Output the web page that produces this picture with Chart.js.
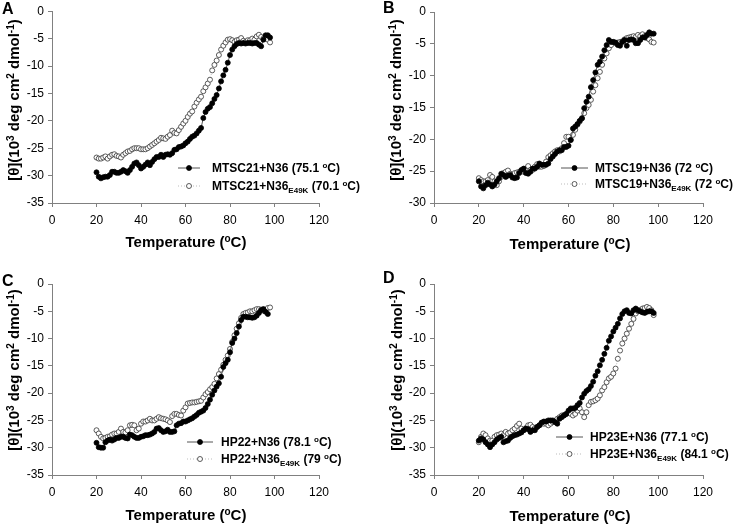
<!DOCTYPE html>
<html><head><meta charset="utf-8">
<script src="https://cdn.jsdelivr.net/npm/chart.js@4"></script>
<style>
html,body{margin:0;padding:0;background:#fff;}
body{width:733px;height:524px;position:relative;overflow:hidden;font-family:"Liberation Sans",Arial,sans-serif;}
canvas{position:absolute;}
.lbl{position:absolute;font-weight:bold;font-size:16px;line-height:16px;color:#000;}
</style></head><body>
<canvas id="cA" width="366" height="262" style="left:0px;top:0px;width:366px;height:262px"></canvas>
<canvas id="cB" width="367" height="262" style="left:366px;top:0px;width:367px;height:262px"></canvas>
<canvas id="cC" width="366" height="262" style="left:0px;top:262px;width:366px;height:262px"></canvas>
<canvas id="cD" width="367" height="262" style="left:366px;top:262px;width:367px;height:262px"></canvas>
<div class="lbl" style="left:2px;top:1px">A</div>
<div class="lbl" style="left:383px;top:0px">B</div>
<div class="lbl" style="left:2px;top:273px">C</div>
<div class="lbl" style="left:383px;top:270px">D</div>
<script>
// ---------------- DATA ----------------
const temps = [20,21,22,23,24,25,26,27,28,29,30,31,32,33,34,35,36,37,38,39,40,41,42,43,44,45,46,47,48,49,50,51,52,53,54,55,56,57,58,59,60,61,62,63,64,65,66,67,68,69,70,71,72,73,74,75,76,77,78,79,80,81,82,83,84,85,86,87,88,89,90,91,92,93,94,95,96,97,98];
const xTicks = [0,20,40,60,80,100,120];

const a_wt = [-29.4,-30.2,-30.5,-30.3,-30.2,-30.2,-29.9,-29.3,-29.3,-29.5,
-29.5,-29.3,-29.0,-29.2,-29.5,-29.0,-28.4,-27.8,-27.6,-28.1,
-28.7,-28.4,-28.0,-27.6,-28.1,-27.5,-27.0,-26.6,-26.6,-26.2,
-26.6,-26.2,-26.1,-26.2,-25.9,-25.3,-25.2,-24.8,-24.7,-24.5,
-24.1,-23.8,-23.3,-22.9,-22.7,-22.3,-21.8,-21.3,-19.5,-18.4,
-17.8,-17.5,-16.8,-16.0,-15.3,-14.1,-12.8,-11.7,-10.7,-9.4,
-8.0,-7.0,-6.4,-6.0,-5.8,-5.9,-5.8,-5.9,-5.8,-5.8,
-5.9,-5.8,-5.8,-6.1,-6.4,-5.2,-4.4,-4.4,-4.8];
const a_e49k = [-26.7,-26.9,-26.9,-26.7,-26.5,-26.9,-26.5,-26.2,-26.1,-26.4,
-26.5,-26.7,-26.2,-25.9,-25.6,-25.5,-25.2,-25.0,-25.0,-25.0,
-25.2,-25.2,-25.2,-25.0,-24.7,-24.4,-24.1,-23.8,-23.5,-23.1,
-23.2,-23.3,-22.9,-22.6,-21.8,-22.2,-22.3,-21.7,-21.1,-20.5,
-20.0,-19.3,-18.7,-18.3,-17.4,-16.7,-16.1,-15.6,-14.6,-13.9,
-13.2,-12.5,-10.8,-9.8,-9.0,-8.0,-7.0,-6.3,-5.7,-5.2,
-5.1,-5.3,-5.6,-5.3,-5.2,-4.9,-5.4,-5.6,-5.3,-5.3,
-5.0,-5.2,-4.6,-4.3,-4.7,-5.0,-4.8,-5.2,-5.7];

const b_wt = [-26.6,-27.4,-27.7,-27.2,-26.8,-27.1,-27.4,-27.1,-26.6,-26.1,
-25.4,-25.6,-25.9,-25.7,-25.6,-26.0,-26.1,-26.0,-25.3,-24.8,
-24.6,-25.3,-25.4,-25.1,-24.6,-24.6,-24.3,-23.8,-24.0,-24.0,
-24.0,-23.8,-23.1,-22.7,-22.3,-21.9,-21.7,-21.7,-21.2,-21.2,
-21.0,-20.1,-18.3,-18.0,-17.6,-17.1,-16.7,-15.1,-14.1,-13.3,
-11.8,-10.7,-9.5,-8.3,-7.8,-7.0,-6.0,-5.2,-4.4,-4.7,
-4.7,-4.8,-5.2,-5.3,-4.7,-4.4,-5.3,-4.4,-4.3,-4.4,
-4.9,-4.9,-4.4,-4.0,-4.0,-3.6,-3.2,-3.4,-3.4];
const b_e49k = [-26.1,-26.4,-26.6,-26.6,-26.4,-25.6,-25.9,-26.6,-27.2,-26.6,
-25.9,-25.3,-25.1,-24.9,-25.4,-25.6,-25.3,-25.2,-25.1,-25.0,
-25.1,-24.6,-24.2,-24.8,-24.8,-24.3,-23.9,-24.3,-24.3,-24.2,
-23.5,-22.8,-22.5,-22.2,-21.9,-21.7,-21.9,-21.4,-20.6,-19.6,
-19.6,-20.1,-19.3,-18.5,-17.7,-17.2,-16.7,-15.9,-15.1,-14.6,
-13.8,-12.5,-11.5,-10.4,-9.4,-8.3,-7.3,-6.5,-5.7,-5.2,
-4.7,-4.9,-4.8,-4.7,-4.6,-4.3,-4.1,-4.0,-3.9,-3.8,
-3.9,-3.6,-3.8,-3.5,-3.8,-4.1,-4.3,-4.7,-4.8];

const c_wt = [-29.1,-29.9,-30.0,-30.0,-29.0,-28.7,-28.5,-28.7,-28.5,-28.2,
-28.2,-28.0,-28.0,-28.2,-28.3,-27.6,-27.7,-28.0,-28.2,-28.2,
-28.0,-27.9,-27.7,-27.7,-27.6,-27.4,-27.1,-26.5,-26.4,-26.8,
-27.1,-27.0,-26.7,-27.1,-27.1,-27.0,-25.9,-25.6,-25.5,-25.2,
-25.2,-25.0,-24.8,-24.6,-24.3,-24.0,-23.6,-23.4,-23.2,-22.7,
-22.0,-21.2,-20.3,-19.5,-18.8,-18.2,-17.0,-15.2,-14.5,-13.9,
-12.5,-10.8,-10.0,-9.0,-7.8,-6.6,-6.0,-6.0,-6.1,-6.1,
-6.2,-6.1,-5.8,-5.3,-4.8,-4.6,-5.1,-5.5,null];
const c_e49k = [-26.8,-27.4,-28.0,-28.3,-28.2,-28.0,-27.9,-27.6,-27.4,-27.4,
-27.1,-26.5,-27.1,-27.2,-26.8,-25.9,-25.8,-25.9,-26.8,-26.5,
-25.6,-25.2,-25.2,-25.0,-24.7,-25.0,-25.0,-24.7,-24.4,-24.6,
-24.7,-24.8,-25.0,-25.3,-24.2,-23.8,-23.8,-24.0,-24.1,-23.2,
-22.6,-21.9,-21.8,-21.7,-21.7,-21.6,-21.5,-21.4,-20.8,-20.2,
-19.8,-19.3,-18.9,-18.3,-17.3,-16.5,-15.7,-14.8,-13.9,-13.1,
-11.9,-10.6,-9.4,-8.2,-7.2,-6.2,-5.5,-5.3,-5.2,-5.0,
-5.0,-4.8,-4.6,-4.6,-4.7,-4.9,-4.8,-4.4,-4.3];

const d_wt = [-28.7,-28.3,-28.5,-29.0,-29.4,-29.9,-29.4,-29.0,-28.5,-28.2,
-28.0,-29.0,-28.8,-28.7,-28.2,-27.9,-27.7,-27.6,-27.4,-27.2,
-26.8,-26.5,-26.6,-27.1,-26.8,-26.8,-26.2,-25.9,-25.4,-25.2,
-25.2,-25.0,-25.0,-25.0,-25.3,-25.6,-24.7,-24.4,-24.1,-23.8,
-23.2,-22.8,-22.8,-22.7,-22.2,-21.8,-20.8,-20.1,-19.6,-19.3,
-18.7,-17.9,-16.8,-16.0,-14.9,-13.9,-12.8,-11.7,-10.4,-9.6,
-8.7,-8.0,-7.3,-6.3,-5.5,-5.0,-4.8,-5.3,-5.4,-4.8,
-4.5,-4.8,-5.0,-5.2,-5.3,-5.1,-5.0,-5.0,-5.3];
const d_e49k = [-29.0,-28.0,-27.4,-27.7,-28.3,-28.7,-28.7,-28.0,-27.7,-27.6,
-27.4,-27.7,-27.1,-27.4,-27.2,-26.8,-26.5,-26.0,-25.6,-26.5,
-26.8,-26.4,-25.9,-25.8,-26.2,-26.4,-26.2,-25.9,-25.6,-25.6,
-25.6,-25.9,-25.6,-25.3,-25.2,-24.7,-24.4,-24.1,-24.0,-23.8,
-23.6,-23.8,-24.1,-23.8,-23.2,-22.8,-23.5,-24.4,-23.5,-22.2,
-21.6,-21.5,-21.3,-21.0,-20.4,-19.5,-18.9,-18.0,-17.3,-17.0,
-16.4,-15.5,-13.7,-12.2,-10.9,-10.0,-9.1,-8.2,-7.3,-6.4,
-5.4,-5.0,-4.8,-4.5,-4.4,-4.2,-4.4,-4.8,-5.7];

// legend labels (text parts; sub = subscript, sup = superscript)
const legendA = [[{t:'MTSC21+N36 (75.1 '},{t:'o',sup:1},{t:'C)'}],
                 [{t:'MTSC21+N36'},{t:'E49K',sub:1},{t:' (70.1 '},{t:'o',sup:1},{t:'C)'}]];
const legendB = [[{t:'MTSC19+N36 (72 '},{t:'o',sup:1},{t:'C)'}],
                 [{t:'MTSC19+N36'},{t:'E49K',sub:1},{t:' (72 '},{t:'o',sup:1},{t:'C)'}]];
const legendC = [[{t:'HP22+N36 (78.1 '},{t:'o',sup:1},{t:'C)'}],
                 [{t:'HP22+N36'},{t:'E49K',sub:1},{t:' (79 '},{t:'o',sup:1},{t:'C)'}]];
const legendD = [[{t:'HP23E+N36 (77.1 '},{t:'o',sup:1},{t:'C)'}],
                 [{t:'HP23E+N36'},{t:'E49K',sub:1},{t:' (84.1 '},{t:'o',sup:1},{t:'C)'}]];
const yTitle = [{t:'[θ](10'},{t:'3',sup:1},{t:' deg cm'},{t:'2',sup:1},{t:' dmol'},{t:'-1',sup:1},{t:')'}];
const xTitle = [{t:'Temperature ('},{t:'o',sup:1},{t:'C)'}];

// ---------------- RENDER ----------------
const FAM = '"Liberation Sans", Arial, sans-serif';
function fontFor(p, size){ const s = (p.sup||p.sub) ? Math.round(size*0.66) : size; return 'bold ' + s + 'px ' + FAM; }
function measure(ctx, parts, size){ let w=0; parts.forEach(p=>{ctx.font=fontFor(p,size); w+=ctx.measureText(p.t).width;}); return w; }
function drawParts(ctx, parts, x, y, size){
  parts.forEach(p=>{ ctx.font=fontFor(p,size); const dy = p.sup ? -size*0.38 : (p.sub ? size*0.25 : 0);
    ctx.fillText(p.t, x, y+dy); x += ctx.measureText(p.t).width; });
}
function makeDeco(cfg){
  return { id:'deco'+cfg.id, afterDraw(chart){
    const ctx = chart.ctx; ctx.save();
    ctx.fillStyle='#000'; ctx.textBaseline='alphabetic'; ctx.textAlign='left';
    let s = cfg.xts, w = measure(ctx, xTitle, s);
    drawParts(ctx, xTitle, cfg.xt.x - w/2, cfg.xt.y + s*0.358, s);
    s = cfg.yts; w = measure(ctx, yTitle, s);
    ctx.save(); ctx.translate(cfg.yt.x, cfg.yt.y); ctx.rotate(-Math.PI/2);
    drawParts(ctx, yTitle, -w/2, s*0.358, s); ctx.restore();
    const L = cfg.leg;
    cfg.labels.forEach((parts, i)=>{
      const ds = chart.data.datasets[i]; const y = L.y[i];
      ctx.save();
      ctx.strokeStyle = ds.borderColor; ctx.lineWidth = ds.borderWidth; ctx.setLineDash(ds.borderDash||[]);
      ctx.beginPath(); ctx.moveTo(L.x1, y); ctx.lineTo(L.x2, y); ctx.stroke();
      ctx.setLineDash([]);
      ctx.beginPath(); ctx.arc((L.x1+L.x2)/2, y, ds.pointRadius, 0, Math.PI*2);
      ctx.fillStyle = ds.pointBackgroundColor; ctx.fill();
      ctx.strokeStyle = ds.pointBorderColor; ctx.lineWidth = ds.pointBorderWidth; ctx.stroke();
      ctx.restore();
      ctx.fillStyle = '#000';
      drawParts(ctx, parts, L.tx, y + 12*0.358, 12);
    });
    ctx.restore();
  }};
}

const panels = [
  {id:'cA', s1:a_wt, s2:a_e49k, ymin:-35, pad:{left:4,top:11,right:47,bottom:11}, yw:48, xh:48,
   yt:{x:14,y:100}, xt:{x:186,y:242}, leg:{x1:178,x2:200,tx:212,y:[168,186]}, labels:legendA},
  {id:'cB', s1:b_wt, s2:b_e49k, ymin:-30, pad:{left:19,top:12,right:30,bottom:9}, yw:49, xh:50,
   yt:{x:30,y:100}, xt:{x:204,y:244}, leg:{x1:195,x2:222,tx:229,y:[168,184]}, labels:legendB},
  {id:'cC', s1:c_wt, s2:c_e49k, ymin:-35, pad:{left:4,top:22,right:47,bottom:0}, yw:48, xh:49,
   yt:{x:14,y:108}, xt:{x:186,y:253}, leg:{x1:187,x2:213,tx:221,y:[180,197]}, labels:legendC},
  {id:'cD', s1:d_wt, s2:d_e49k, ymin:-35, pad:{left:22,top:22,right:30,bottom:0}, yw:46, xh:49,
   yt:{x:31,y:108}, xt:{x:204,y:254}, leg:{x1:190,x2:217,tx:224,y:[175,192]}, labels:legendD}
];

panels.forEach(p=>{
  const pts = arr => temps.map((t,i)=>({x:t, y:arr[i]}));
  p.xts = 15; p.yts = 15;
  new Chart(document.getElementById(p.id), {
    type:'scatter',
    data:{ datasets:[
      {label:'wt', data:pts(p.s1), showLine:true, borderColor:'#555', borderWidth:1,
       pointRadius:2.5, pointBackgroundColor:'#000', pointBorderColor:'#000', pointBorderWidth:0.8,
       pointHoverRadius:2.5},
      {label:'e49k', data:pts(p.s2), showLine:true, borderColor:'#bbb', borderWidth:1, borderDash:[1,2],
       pointRadius:2.5, pointBackgroundColor:'#fff', pointBorderColor:'#333', pointBorderWidth:0.8,
       pointHoverRadius:2.5}
    ]},
    options:{
      responsive:false, animation:false, devicePixelRatio:1,
      layout:{padding:p.pad},
      plugins:{legend:{display:false}, tooltip:{enabled:false}},
      scales:{
        x:{type:'linear', min:0, max:120,
           afterBuildTicks(s){ s.ticks = xTicks.map(v=>({value:v})); },
           ticks:{color:'#000', font:{size:12, family:FAM}, padding:6, maxRotation:0},
           grid:{drawOnChartArea:false, drawTicks:true, tickLength:4, color:'#808080'},
           border:{color:'#808080', width:1},
           afterFit(s){ s.height = p.xh; }},
        y:{type:'linear', min:p.ymin, max:0,
           ticks:{stepSize:5, color:'#000', font:{size:12, family:FAM}, padding:4},
           grid:{drawOnChartArea:false, drawTicks:true, tickLength:4, color:'#808080'},
           border:{color:'#808080', width:1},
           afterFit(s){ s.width = p.yw; }}
      }
    },
    plugins:[makeDeco(p)]
  });
});
</script>
</body></html>
